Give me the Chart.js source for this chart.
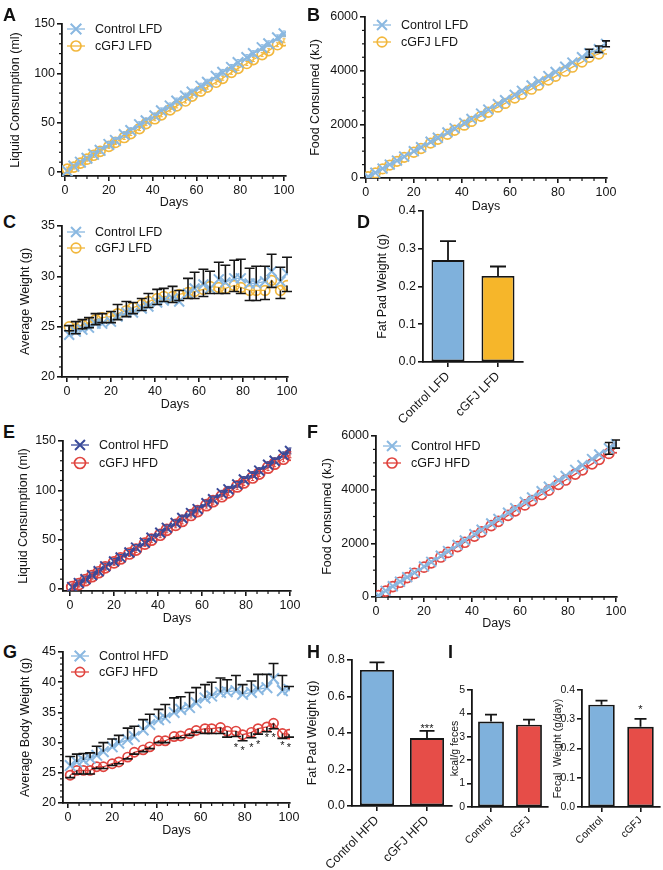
<!DOCTYPE html>
<html>
<head>
<meta charset="utf-8">
<script src="https://cdn.jsdelivr.net/npm/chart.js@4.4.1/dist/chart.umd.min.js"></script>
<style>
  html, body { margin: 0; padding: 0; background: #fff; }
  #fig { position: relative; width: 663px; height: 870px; overflow: hidden; background: #fff; }
  #fig canvas { position: absolute; }
  .tag { position: absolute; font: bold 18px 'Liberation Sans', Arial, sans-serif; line-height: 18px; color: #111; }
</style>
</head>
<body>
<div id="fig">
  <canvas id="chart-a"></canvas>
  <canvas id="chart-b"></canvas>
  <canvas id="chart-c"></canvas>
  <canvas id="chart-d"></canvas>
  <canvas id="chart-e"></canvas>
  <canvas id="chart-f"></canvas>
  <canvas id="chart-g"></canvas>
  <canvas id="chart-h"></canvas>
  <canvas id="chart-i1"></canvas>
  <canvas id="chart-i2"></canvas>
  <div class="tag" style="left:3px;top:6px">A</div>
  <div class="tag" style="left:307px;top:6px">B</div>
  <div class="tag" style="left:3px;top:213px">C</div>
  <div class="tag" style="left:357px;top:213px">D</div>
  <div class="tag" style="left:3px;top:423px">E</div>
  <div class="tag" style="left:307px;top:423px">F</div>
  <div class="tag" style="left:3px;top:643px">G</div>
  <div class="tag" style="left:307px;top:643px">H</div>
  <div class="tag" style="left:448px;top:643px">I</div>
</div>
<script>
'use strict';

// ******* DATA *******
let days = [1, 4, 7, 10, 13, 16, 20, 23, 27, 30, 34, 37, 41, 44, 48, 51, 55, 58, 62, 65, 69, 72, 76, 79, 83, 86, 90, 93, 97, 100];
let dayTicks = [0, 20, 40, 60, 80, 100];

// A - liquid consumption, low fat diet (ml)
let liquidCtrlLFD = [1, 6, 10, 14, 18, 22, 28, 32, 38, 42, 48, 52, 57, 62, 67, 72, 77, 81, 87, 91, 97, 101, 106, 111, 116, 120, 126, 130, 136, 140];
let liquidCtrlLFDErr = [2, 2, 2, 2, 3, 3, 3, 3, 3, 3, 3, 3, 3, 3, 3, 3, 3, 3, 3, 3, 3, 3, 3, 3, 3, 3, 3, 3, 3, 3];
let liquidCgfjLFD = [3, 5, 9, 13, 17, 21, 26, 30, 35, 39, 44, 49, 54, 58, 63, 67, 72, 77, 82, 86, 91, 95, 101, 105, 110, 114, 119, 123, 129, 133];
let liquidCgfjLFDErr = [2, 2, 2, 2, 2, 2, 2, 2, 2, 2, 2, 2, 2, 2, 2, 2, 2, 2, 2, 2, 2, 2, 2, 2, 2, 2, 2, 2, 2, 2];
let liquidTicks = [0, 50, 100, 150];

// B - food consumed, low fat diet (kJ)
let foodCtrlLFD = [50, 200, 350, 500, 650, 800, 1000, 1150, 1350, 1500, 1700, 1850, 2050, 2200, 2400, 2550, 2750, 2900, 3100, 3250, 3450, 3600, 3800, 3950, 4150, 4300, 4500, 4650, 4800, 5000];
let foodCtrlLFDErr = [0, 0, 0, 0, 0, 0, 0, 0, 0, 0, 0, 0, 0, 0, 0, 0, 0, 0, 0, 0, 0, 0, 0, 0, 0, 0, 0, 150, 120, 110];
let foodCgfjLFD = [50, 190, 340, 480, 620, 770, 960, 1100, 1300, 1440, 1630, 1780, 1970, 2110, 2300, 2450, 2640, 2780, 2980, 3120, 3310, 3460, 3650, 3790, 3980, 4130, 4320, 4500, 4620, 4800];
let foodTicks = [0, 2000, 4000, 6000];

// C - average weight, low fat diet (g)
let weightCtrlLFD = [24.2, 24.5, 24.7, 24.9, 25.3, 25.3, 25.5, 26.0, 26.4, 26.4, 26.8, 27.0, 27.4, 27.6, 27.8, 27.5, 28.3, 28.8, 29.2, 28.8, 29.7, 29.4, 29.8, 29.8, 29.3, 29.3, 29.5, 30.5, 29.5, 30.3];
let weightCtrlLFDErr = [0.9, 1.0, 1.0, 1.0, 1.0, 1.0, 1.0, 1.2, 1.1, 1.0, 1.0, 1.3, 1.3, 1.2, 1.2, 1.1, 1.5, 1.6, 1.5, 1.7, 1.7, 1.7, 1.8, 1.9, 1.5, 1.7, 1.5, 1.7, 1.4, 1.6];
let weightCgfjLFD = [25.0, 24.8, 25.2, 25.4, 25.7, 25.9, 26.0, 26.3, 26.6, 26.9, 27.2, 27.5, 27.8, 28.0, 28.0, 28.2, 28.4, 28.5, 28.7, 29.0, 28.9, 28.8, 29.1, 28.9, 28.6, 28.6, 28.6, 29.6, 28.6, 29.1];
let weightCgfjLFDErr = [0.4, 0.5, 0.4, 0.5, 0.5, 0.5, 0.6, 0.6, 0.6, 0.6, 0.6, 0.6, 0.6, 0.5, 0.6, 0.6, 0.6, 0.7, 0.7, 0.7, 0.6, 0.5, 0.6, 0.6, 1.0, 1.0, 0.9, 0.7, 0.8, 0.6];
let weightLFDTicks = [20, 25, 30, 35];

// D - fat pad, low fat diet (g)
let lfdGroups = ['Control LFD', 'cGFJ LFD'];
let fatPadLFD = [0.27, 0.228];
let fatPadLFDErr = [0.05, 0.025];
let fatPadLFDTicks = [0, 0.1, 0.2, 0.3, 0.4];

// E - liquid consumption, high fat diet (ml)
let liquidCtrlHFD = [2, 6, 10, 14, 18, 23, 28, 32, 37, 42, 47, 52, 57, 62, 67, 72, 77, 81, 87, 91, 97, 101, 106, 111, 116, 120, 126, 130, 136, 140];
let liquidCtrlHFDErr = [3, 3, 3, 3, 3, 3, 3, 3, 3, 3, 3, 3, 3, 3, 3, 3, 3, 3, 3, 3, 3, 3, 3, 3, 3, 3, 3, 3, 3, 3];
let liquidCgfjHFD = [2, 5, 9, 13, 17, 22, 27, 31, 36, 40, 46, 50, 55, 60, 65, 69, 75, 79, 85, 89, 94, 98, 104, 108, 113, 117, 123, 127, 132, 136];
let liquidCgfjHFDErr = [3, 3, 3, 3, 3, 3, 3, 3, 3, 3, 3, 3, 3, 3, 3, 3, 3, 3, 3, 3, 3, 3, 3, 3, 3, 3, 3, 3, 3, 3];

// F - food consumed, high fat diet (kJ)
let foodCtrlHFD = [60, 230, 400, 570, 740, 910, 1140, 1310, 1540, 1710, 1940, 2110, 2340, 2510, 2740, 2910, 3140, 3310, 3540, 3710, 3940, 4110, 4340, 4510, 4740, 4910, 5140, 5310, 5540, 5700];
let foodCtrlHFDErr = [0, 0, 0, 0, 0, 0, 0, 0, 0, 0, 0, 0, 0, 0, 0, 0, 0, 0, 0, 0, 0, 0, 0, 0, 0, 0, 0, 0, 220, 150];
let foodCgfjHFD = [50, 220, 390, 550, 720, 880, 1110, 1270, 1490, 1660, 1880, 2040, 2270, 2430, 2660, 2820, 3040, 3210, 3430, 3590, 3820, 3980, 4200, 4360, 4580, 4740, 4960, 5130, 5350, 5560];

// G - average body weight, high fat diet (g)
let weightCtrlHFD = [26.2, 26.8, 27.1, 27.4, 27.9, 28.5, 29.3, 29.9, 30.5, 31.0, 32.1, 33.0, 33.8, 34.1, 35.0, 35.5, 35.8, 36.6, 37.4, 37.7, 38.3, 38.4, 38.6, 38.0, 38.3, 38.8, 39.1, 40.6, 38.6, 38.8];
let weightCtrlHFDErr = [1.5, 1.3, 1.1, 0.9, 1.5, 1.5, 1.3, 1.3, 1.9, 1.7, 1.7, 1.7, 1.7, 2.2, 2.4, 2.1, 2.5, 2.5, 2.2, 2.3, 2.4, 2.0, 2.5, 1.6, 1.9, 2.5, 2.2, 2.5, 2.5, 0.5];
let weightCgfjHFD = [24.6, 25.4, 25.4, 25.4, 26.0, 26.0, 26.5, 26.8, 27.6, 28.4, 28.8, 29.3, 30.3, 30.3, 31.0, 31.1, 31.5, 32.0, 32.3, 32.3, 32.5, 31.9, 31.9, 31.3, 31.7, 32.3, 32.6, 33.2, 31.5, 31.4];
let weightCgfjHFDErr = [0.4, 0.6, 0.6, 0.6, 0.3, 0.3, 0.3, 0.3, 0.3, 0.3, 0.3, 0.3, 0.3, 0.3, 0.3, 0.3, 0.3, 0.3, 0.8, 0.8, 1.0, 1.0, 0.9, 1.0, 0.9, 0.9, 0.8, 0.9, 0.8, 0.5];
let weightHFDTicks = [20, 25, 30, 35, 40, 45];
let starDaysG = [76, 79, 83, 86, 90, 93, 97, 100];
let starLevelsG = [29.6, 29.1, 29.6, 30.1, 31.2, 31.3, 29.9, 29.6];

// H - fat pad, high fat diet (g)
let hfdGroups = ['Control HFD', 'cGFJ HFD'];
let fatPadHFD = [0.745, 0.372];
let fatPadHFDErr = [0.042, 0.04];
let fatPadHFDTicks = [0, 0.2, 0.4, 0.6, 0.8];

// I - feces
let fecesGroups = ['Control', 'cGFJ'];
let kcalFeces = [3.65, 3.52];
let kcalFecesErr = [0.3, 0.21];
let kcalTicks = [0, 1, 2, 3, 4, 5];
let fecalWeight = [0.35, 0.274];
let fecalWeightErr = [0.014, 0.027];
let fecalTicks = [0, 0.1, 0.2, 0.3, 0.4];

// ******* STYLE *******
const FONT = "'Liberation Sans', Arial, Helvetica, sans-serif";
const INK = '#151515';
const AXIS = '#151515';
const LIGHT_BLUE = '#8ab8e1';
const NAVY = '#394a99';
const ORANGE = '#f2b73c';
const RED = '#e0443f';
const BAR_BLUE = '#7fb1dc';
const BAR_ORANGE = '#f6b62a';
const BAR_RED = '#e64d48';

Chart.defaults.font.family = FONT;
Chart.defaults.font.size = 12;
Chart.defaults.color = INK;
Chart.defaults.animation = false;

// ******* PLUGINS *******
const errorBars = {
  id: 'errorBars',
  afterDatasetsDraw(chart) {
    let ctx = chart.ctx;
    chart.data.datasets.forEach((ds, i) => {
      if (!ds.errUp && !ds.errDown) return;
      let meta = chart.getDatasetMeta(i);
      let yScale = chart.scales[meta.yAxisID];
      ctx.save();
      ctx.strokeStyle = ds.errColor || AXIS;
      ctx.lineWidth = ds.errWidth || 1.6;
      meta.data.forEach((el, j) => {
        let raw = ds.data[j];
        let v = typeof raw === 'object' ? raw.y : raw;
        [[ds.errUp, 1], [ds.errDown, -1]].forEach(([arr, sign]) => {
          if (!arr || !arr[j]) return;
          let ye = yScale.getPixelForValue(v + sign * arr[j]);
          ctx.beginPath();
          ctx.moveTo(el.x, el.y);
          ctx.lineTo(el.x, ye);
          ctx.moveTo(el.x - ds.capHalf, ye);
          ctx.lineTo(el.x + ds.capHalf, ye);
          ctx.stroke();
        });
      });
      ctx.restore();
    });
  }
};

function drawMarker(ctx, style, x, y, r) {
  ctx.beginPath();
  if (style === 'crossRot') {
    let d = r * Math.SQRT1_2;
    ctx.moveTo(x - d, y - d); ctx.lineTo(x + d, y + d);
    ctx.moveTo(x + d, y - d); ctx.lineTo(x - d, y + d);
  } else {
    ctx.arc(x, y, r, 0, Math.PI * 2);
  }
  ctx.stroke();
}

const lineLegend = {
  id: 'lineLegend',
  afterDraw(chart, args, opts) {
    let ctx = chart.ctx;
    let area = chart.chartArea;
    chart.data.datasets.forEach((ds, i) => {
      let cx = area.left + opts.dx;
      let cy = area.top + opts.dy + i * opts.gap;
      ctx.save();
      ctx.strokeStyle = ds.borderColor;
      ctx.lineWidth = ds.borderWidth;
      ctx.beginPath();
      ctx.moveTo(cx - 9, cy);
      ctx.lineTo(cx + 9, cy);
      ctx.stroke();
      ctx.lineWidth = ds.pointBorderWidth;
      drawMarker(ctx, ds.pointStyle, cx, cy, ds.pointRadius);
      ctx.fillStyle = INK;
      ctx.font = '12.5px ' + FONT;
      ctx.textAlign = 'left';
      ctx.textBaseline = 'middle';
      ctx.fillText(ds.label, cx + 19, cy + 1);
      ctx.restore();
    });
  }
};

const minorTicks = {
  id: 'minorTicks',
  afterDraw(chart, args, opts) {
    let ctx = chart.ctx;
    ctx.save();
    ctx.strokeStyle = AXIS;
    ctx.lineWidth = 1.2;
    ['x', 'y'].forEach(k => {
      let step = opts[k];
      if (!step) return;
      let s = chart.scales[k];
      let majors = s.ticks.map(t => t.value);
      let lo = majors[0];
      let hi = majors[majors.length - 1];
      for (let n = 1; lo + n * step < hi - step / 10; n++) {
        let v = lo + n * step;
        if (majors.some(m => Math.abs(m - v) < step / 10)) continue;
        let p = s.getPixelForValue(v);
        ctx.beginPath();
        if (k === 'x') { ctx.moveTo(p, s.top); ctx.lineTo(p, s.top + 3); }
        else { ctx.moveTo(s.right, p); ctx.lineTo(s.right - 3, p); }
        ctx.stroke();
      }
    });
    ctx.restore();
  }
};

const marks = {
  id: 'marks',
  afterDatasetsDraw(chart, args, opts) {
    let ctx = chart.ctx;
    ctx.save();
    ctx.fillStyle = INK;
    ctx.font = opts.size + 'px ' + FONT;
    ctx.textAlign = 'center';
    ctx.textBaseline = 'middle';
    opts.xs.forEach((x, i) => {
      let px = chart.scales.x.getPixelForValue(x);
      let py = chart.scales.y.getPixelForValue(opts.ys[i]);
      ctx.fillText(opts.text, px, py + opts.shift);
    });
    ctx.restore();
  }
};

// ******* HELPERS *******
function placeCanvas(id, box) {
  let cv = document.getElementById(id);
  cv.width = box.w;
  cv.height = box.h;
  cv.style.left = box.x + 'px';
  cv.style.top = box.y + 'px';
  return cv;
}

function makeAxis(isY, p, box, area) {
  let size = p.fontSize || 12.5;
  let axis = {
    border: { display: true, color: AXIS, width: 1.8 },
    grid: { display: true, drawOnChartArea: false, drawTicks: true, tickLength: 5, color: AXIS, lineWidth: 1.6, offset: false },
    ticks: { color: INK, font: { size: size }, padding: 2, autoSkip: false },
    title: { display: false }
  };
  if (isY) {
    axis.type = 'linear';
    axis.min = p.yMin;
    axis.max = p.yMax;
    axis.afterBuildTicks = s => { s.ticks = p.yTicks.map(v => ({ value: v })); };
    axis.ticks.callback = v => v.toFixed(p.yDec || 0);
    axis.title = { display: true, text: p.yTitle, font: { size: size }, color: INK, padding: 0 };
    axis.afterFit = s => { s.width = area.l - box.x; };
  } else {
    if (p.groups) {
      axis.type = 'category';
      axis.ticks.minRotation = 45;
      axis.ticks.maxRotation = 45;
    } else {
      axis.type = 'linear';
      axis.min = p.xMin;
      axis.max = p.xMax;
      axis.afterBuildTicks = s => { s.ticks = dayTicks.map(v => ({ value: v })); };
      axis.title = { display: true, text: 'Days', font: { size: size }, color: INK, padding: 0 };
    }
    axis.afterFit = s => { s.height = box.y + box.h - area.b; };
  }
  return axis;
}

function makeChart(id, box, area, p, type, data) {
  let cv = placeCanvas(id, box);
  return new Chart(cv, {
    type: type,
    data: data,
    options: {
      responsive: false,
      animation: false,
      layout: { padding: { left: 0, top: area.t - box.y, right: box.x + box.w - area.r, bottom: 0 } },
      plugins: {
        legend: { display: false },
        tooltip: { enabled: false },
        lineLegend: p.legend || false,
        minorTicks: p.minor || false,
        marks: p.marks || false
      },
      scales: { x: makeAxis(false, p, box, area), y: makeAxis(true, p, box, area) }
    },
    plugins: [errorBars, lineLegend, minorTicks, marks]
  });
}

function series(label, values, color, marker, size, err) {
  let ds = {
    label: label,
    data: days.map((d, i) => ({ x: d, y: values[i] })),
    borderColor: color,
    borderWidth: 1.3,
    pointStyle: marker,
    pointRadius: size,
    pointBorderWidth: marker === 'crossRot' ? 2 : 1.7,
    pointBorderColor: color,
    pointBackgroundColor: 'rgba(255,255,255,0)',
    fill: false,
    tension: 0,
    capHalf: 5
  };
  return Object.assign(ds, err || {});
}

function lineChart(id, box, area, p, datasets) {
  return makeChart(id, box, area, p, 'line', { datasets: datasets });
}

function barChart(id, box, area, p, values, errs, colors) {
  return makeChart(id, box, area, p, 'bar', {
    labels: p.groups,
    datasets: [{
      data: values,
      backgroundColor: colors,
      borderColor: '#151515',
      borderWidth: 1.8,
      borderSkipped: false,
      barPercentage: p.barPct,
      categoryPercentage: 1,
      errUp: errs,
      capHalf: p.capHalf,
      errWidth: 1.8
    }]
  });
}

// ******* EXECUTABLE CODE *******

// A
lineChart('chart-a', { x: 8, y: 14, w: 292, h: 196 }, { l: 62, r: 286, t: 24, b: 176 }, {
  xMin: -1.4, xMax: 100.9, yMin: -4, yMax: 150, yTicks: liquidTicks, yTitle: 'Liquid Consumption (ml)',
  minor: { x: 5, y: 10 }, legend: { dx: 14, dy: 5, gap: 17 }
}, [
  series('Control LFD', liquidCtrlLFD, LIGHT_BLUE, 'crossRot', 7.5, { errUp: liquidCtrlLFDErr, errDown: liquidCtrlLFDErr, errColor: LIGHT_BLUE, errWidth: 1, capHalf: 1.5 }),
  series('cGFJ LFD', liquidCgfjLFD, ORANGE, 'circle', 5, { errUp: liquidCgfjLFDErr, errDown: liquidCgfjLFDErr, errColor: ORANGE, errWidth: 1, capHalf: 1.5 })
]);

// B
lineChart('chart-b', { x: 308, y: 7, w: 313, h: 207 }, { l: 365, r: 607, t: 17, b: 178 }, {
  xMin: -0.3, xMax: 100.4, yMin: 0, yMax: 6000, yTicks: foodTicks, yTitle: 'Food Consumed (kJ)',
  minor: { x: 5, y: 500 }, legend: { dx: 17, dy: 8, gap: 17 }
}, [
  series('Control LFD', foodCtrlLFD, LIGHT_BLUE, 'crossRot', 7, { errUp: foodCtrlLFDErr, errDown: foodCtrlLFDErr, capHalf: 4 }),
  series('cGFJ LFD', foodCgfjLFD, ORANGE, 'circle', 4.8)
]);

// C
lineChart('chart-c', { x: 18, y: 216, w: 284, h: 196 }, { l: 62, r: 288, t: 226, b: 377 }, {
  xMin: -2.27, xMax: 100.45, yMin: 20, yMax: 35, yTicks: weightLFDTicks, yTitle: 'Average Weight (g)',
  minor: { x: 5, y: 1 }, legend: { dx: 14, dy: 6, gap: 16 }
}, [
  series('Control LFD', weightCtrlLFD, LIGHT_BLUE, 'crossRot', 7, { errUp: weightCtrlLFDErr, capHalf: 5 }),
  series('cGFJ LFD', weightCgfjLFD, ORANGE, 'circle', 4.8, { errDown: weightCgfjLFDErr, capHalf: 5 })
]);

// D
barChart('chart-d', { x: 375, y: 201, w: 160, h: 232 }, { l: 423, r: 523, t: 211, b: 362 }, {
  groups: lfdGroups, yMin: 0, yMax: 0.4, yTicks: fatPadLFDTicks, yDec: 1, yTitle: 'Fat Pad Weight (g)',
  barPct: 0.66, capHalf: 8
}, fatPadLFD, fatPadLFDErr, [BAR_BLUE, BAR_ORANGE]);

// E
lineChart('chart-e', { x: 16, y: 431, w: 289, h: 195 }, { l: 63, r: 291, t: 441, b: 591 }, {
  xMin: -3.2, xMax: 100.45, yMin: -2, yMax: 150, yTicks: liquidTicks, yTitle: 'Liquid Consumption (ml)',
  minor: { x: 5, y: 10 }, legend: { dx: 17, dy: 4, gap: 18 }
}, [
  series('Control HFD', liquidCtrlHFD, NAVY, 'crossRot', 7, { errUp: liquidCtrlHFDErr, errDown: liquidCtrlHFDErr, errColor: NAVY, errWidth: 1, capHalf: 1.5 }),
  series('cGFJ HFD', liquidCgfjHFD, RED, 'circle', 5.5, { errUp: liquidCgfjHFDErr, errDown: liquidCgfjHFDErr, errColor: RED, errWidth: 1, capHalf: 1.5 })
]);

// F
lineChart('chart-f', { x: 320, y: 426, w: 311, h: 205 }, { l: 376, r: 617, t: 436, b: 597 }, {
  xMin: 0, xMax: 100.4, yMin: 0, yMax: 6000, yTicks: foodTicks, yTitle: 'Food Consumed (kJ)',
  minor: { x: 5, y: 500 }, legend: { dx: 16, dy: 10, gap: 17 }
}, [
  series('Control HFD', foodCtrlHFD, LIGHT_BLUE, 'crossRot', 7, { errUp: foodCtrlHFDErr, errDown: foodCtrlHFDErr, capHalf: 4 }),
  series('cGFJ HFD', foodCgfjHFD, RED, 'circle', 5)
]);

// G
lineChart('chart-g', { x: 18, y: 642, w: 286, h: 196 }, { l: 63, r: 290, t: 652, b: 803 }, {
  xMin: -2.26, xMax: 100.45, yMin: 20, yMax: 45, yTicks: weightHFDTicks, yTitle: 'Average Body Weight (g)',
  minor: { x: 5, y: 1 }, legend: { dx: 17, dy: 4, gap: 16 },
  marks: { xs: starDaysG, ys: starLevelsG, text: '*', size: 11, shift: 3 }
}, [
  series('Control HFD', weightCtrlHFD, LIGHT_BLUE, 'crossRot', 7.5, { errUp: weightCtrlHFDErr, capHalf: 5 }),
  series('cGFJ HFD', weightCgfjHFD, RED, 'circle', 4.6, { errDown: weightCgfjHFDErr, capHalf: 5 })
]);

// H
barChart('chart-h', { x: 305, y: 650, w: 157, h: 220 }, { l: 352, r: 452, t: 660, b: 806 }, {
  groups: hfdGroups, yMin: 0, yMax: 0.8, yTicks: fatPadHFDTicks, yDec: 1, yTitle: 'Fat Pad Weight (g)',
  barPct: 0.68, capHalf: 7.5,
  marks: { xs: [1], ys: [0.438], text: '***', size: 11, shift: 3 }
}, fatPadHFD, fatPadHFDErr, [BAR_BLUE, BAR_RED]);

// I
barChart('chart-i1', { x: 449, y: 680, w: 107, h: 190 }, { l: 472, r: 548, t: 690, b: 807 }, {
  groups: fecesGroups, yMin: 0, yMax: 5, yTicks: kcalTicks, yDec: 0, yTitle: 'kcal/g feces',
  fontSize: 10.5, barPct: 0.68, capHalf: 6
}, kcalFeces, kcalFecesErr, [BAR_BLUE, BAR_RED]);

barChart('chart-i2', { x: 552, y: 680, w: 111, h: 190 }, { l: 582, r: 660, t: 690, b: 807 }, {
  groups: fecesGroups, yMin: 0, yMax: 0.4, yTicks: fecalTicks, yDec: 1, yTitle: 'Fecal  Weight (g/day)',
  fontSize: 10.5, barPct: 0.68, capHalf: 6,
  marks: { xs: [1], ys: [0.342], text: '*', size: 11, shift: 3 }
}, fecalWeight, fecalWeightErr, [BAR_BLUE, BAR_RED]);
</script>
</body>
</html>
